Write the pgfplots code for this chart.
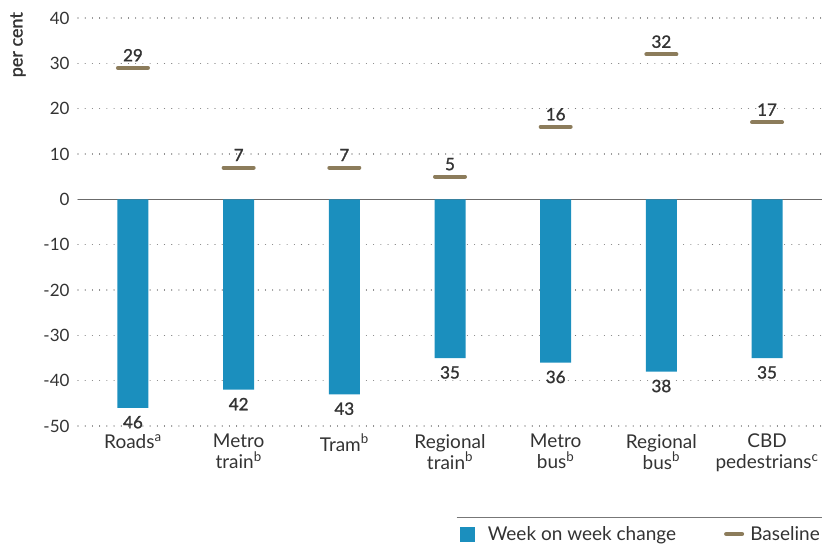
\documentclass[border=0pt]{standalone}
\usepackage{fontspec}
\setmainfont{Lato}
\newfontface\semib{Lato}[FakeBold=1.3]
\usepackage{pgfplots}
\pgfplotsset{compat=1.18}
\definecolor{barblue}{HTML}{1B8FBE}
\definecolor{basebrown}{HTML}{8C7C5B}
\definecolor{txt}{HTML}{333333}
\definecolor{gridc}{HTML}{777777}
\begin{document}
\begin{tikzpicture}
\path[use as bounding box] (-78bp,-118bp) rectangle (744bp,426bp);
\begin{axis}[
  at={(0,0)}, anchor=south west,
  scale only axis, width=744bp, height=408bp,
  xmin=-0.52, xmax=6.52, ymin=-50, ymax=40,
  axis line style={draw=none},
  tick style={draw=none},
  ytick={-50,-40,...,40},
  ymajorgrids,
  major grid style={draw=gridc, line width=1.1bp, dash pattern=on 0.01bp off 7.2bp, line cap=round},
  xtick={0,...,6},
  xticklabels={Roads\textsuperscript{a}, Metro\\train\textsuperscript{b}, Tram\textsuperscript{b}, Regional\\train\textsuperscript{b}, Metro\\bus\textsuperscript{b}, Regional\\bus\textsuperscript{b}, CBD\\pedestrians\textsuperscript{c}},
  xticklabel style={align=center, font=\fontsize{19bp}{21bp}\selectfont, text=txt, inner sep=1bp, yshift=-7bp},
  yticklabel style={font=\fontsize{17bp}{19bp}\selectfont, text=txt, xshift=-5bp},
  /pgf/number format/assume math mode=true,
  clip=false,
  legend columns=2,
  legend style={at={(1,0)}, anchor=east, yshift=-108bp, draw=none, inner sep=0pt,
    font=\fontsize{19bp}{21bp}\selectfont, text=txt,
    /tikz/every even column/.append style={column sep=46bp}},
  legend cell align=left,
]
\draw[color=gridc!90!black, line width=1.3bp] (axis cs:-0.52,0) -- (axis cs:6.52,0);
\addplot[ybar, bar width=31bp, fill=barblue, draw=none,
  point meta=explicit symbolic,
  nodes near coords,
  every node near coord/.style={anchor=north, yshift=-8bp, inner sep=0pt, font=\fontsize{17bp}{19bp}\semib, text=txt},
  area legend,
  legend image code/.code={\fill[barblue] (-4bp,-7.5bp) rectangle (11bp,7.5bp); \path (22bp,0bp);}]
  coordinates {(0,-46) [46] (1,-42) [42] (2,-43) [43] (3,-35) [35] (4,-36) [36] (5,-38) [38] (6,-35) [35]};
\addlegendentry{Week on week change}
\addplot[only marks, mark=-, mark size=15bp, mark options={draw=basebrown, line width=4bp, line cap=round},
  point meta=explicit symbolic,
  nodes near coords,
  every node near coord/.style={anchor=base, yshift=6.5bp, inner sep=0pt, font=\fontsize{17bp}{19bp}\semib, text=txt},
  legend image code/.code={\draw[basebrown, line width=4bp, line cap=round] (2bp,0bp) -- (18bp,0bp); \path (24bp,0bp);}]
  coordinates {(0,29) [29] (1,7) [7] (2,7) [7] (3,5) [5] (4,16) [16] (5,32) [32] (6,17) [17]};
\addlegendentry{Baseline}
\draw[color=gridc, line width=1bp] ([yshift=-91bp]rel axis cs:0.509,0) -- ([yshift=-91bp]rel axis cs:1,0);
\node[rotate=90, anchor=east, font=\fontsize{18bp}{20bp}\semib, text=txt, inner sep=0pt]
  at ([xshift=-60bp, yshift=6bp]rel axis cs:0,1) {per cent};
\end{axis}
\end{tikzpicture}
\end{document}
